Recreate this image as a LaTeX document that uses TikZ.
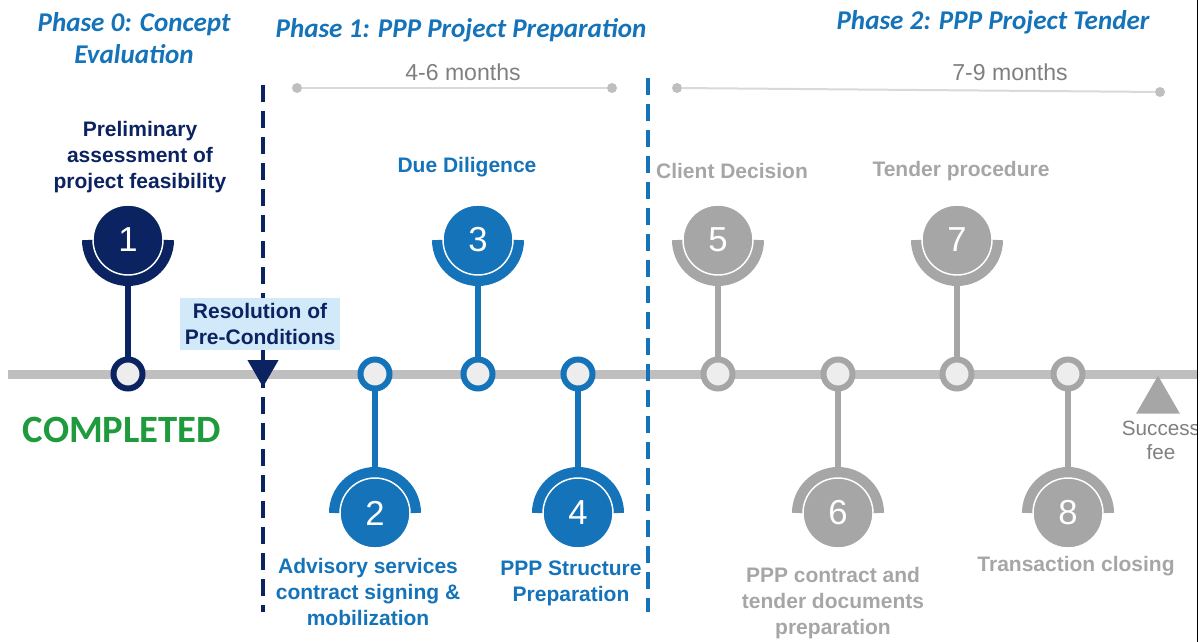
\documentclass[tikz,border=0pt]{standalone}
\usepackage{fontspec}
\setmainfont{Liberation Sans}
\newfontfamily\headfont{Carlito}
\usetikzlibrary{
  positioning,
  shapes.geometric,
  backgrounds,
}
\definecolor{navyCol}{HTML}{0C2362}
\definecolor{blueCol}{HTML}{1473B9}
\definecolor{grayCol}{HTML}{A6A6A6}
\definecolor{lineGray}{HTML}{BFBFBF}
\definecolor{dotFill}{HTML}{EDEDED}
\definecolor{boxBg}{HTML}{D2E9F9}
\definecolor{doneCol}{HTML}{1F9A3C}
\definecolor{monthCol}{HTML}{7F7F7F}
\definecolor{barCol}{HTML}{D9D9D9}
\tikzset{
  phasehead/.style={
    font=\headfont\fontsize{20.3}{24}\selectfont\bfseries\itshape,
    text=blueCol, align=center, inner sep=0pt,
  },
  lbl/.style={
    font=\fontsize{15.75}{19.5}\selectfont\bfseries, align=center,
    inner sep=0pt,
  },
  months/.style={
    font=\fontsize{17.3}{20}\selectfont, text=monthCol, inner sep=0pt,
  },
  bardot/.style={circle, fill=lineGray, minimum size=7.5pt, inner sep=0pt},
  barline/.style={draw=barCol, line width=1.5pt},
  timeline/.style={draw=lineGray, line width=6.75pt},
  sepline/.style={line width=3pt, dash pattern=on 12.75pt off 6.75pt},
  stemline/.style={line width=4.5pt},
  tickdot/.style={
    circle, fill=dotFill, line width=4.5pt, minimum size=21.75pt,
    inner sep=0pt,
  },
  cup/.style={line width=8.25pt},
  bigdot/.style={
    circle, draw=white, line width=1.1pt, minimum size=52.5pt,
    inner sep=0pt, text=white, font=\fontsize{26}{26}\selectfont,
  },
  flagtri/.style={
    regular polygon, regular polygon sides=3, inner sep=0pt,
    draw=none,
  },
  condbox/.style={
    rectangle, fill=boxBg, text=navyCol, align=center, inner sep=0pt,
    minimum width=120pt, minimum height=39pt,
    font=\fontsize{15.75}{19}\selectfont\bfseries,
  },
  done/.style={
    font=\headfont\fontsize{29}{29}\selectfont\bfseries, text=doneCol,
    inner sep=0pt,
  },
  fee/.style={
    font=\fontsize{15.5}{18}\selectfont, text=monthCol, align=center,
    inner sep=0pt,
  },
}

\begin{document}
\begin{tikzpicture}[x=0.75pt, y=0.75pt]
\useasboundingbox (0,0) rectangle (1203,-642);

% phase headings
\node[phasehead] (ph0) at (134,-38) {Phase 0: Concept\\Evaluation};
\node[phasehead] (ph1) at (461,-30) {Phase 1: PPP Project Preparation};
\node[phasehead] (ph2) at (993,-22) {Phase 2: PPP Project Tender};

% duration bars
\node[bardot] (b1s) at (297,-88) {};
\node[bardot] (b1e) at (612,-88) {};
\node[bardot] (b2s) at (677,-88) {};
\node[bardot] (b2e) at (1160,-92) {};
\node[months] (dur1) at (463,-72) {4-6 months};
\node[months] (dur2) at (1010,-72) {7-9 months};
\begin{scope}[on background layer]
  \draw[barline] (b1s) -- (b1e);
  \draw[barline] (b2s) -- (b2e);
\end{scope}

% main time axis
\coordinate (tlA) at (8,-374);
\coordinate (tlB) at (1197,-374);
\draw[timeline] (tlA) -- (tlB);

% phase separators
\coordinate (sepA1) at (263,-85);
\coordinate (sepA2) at (263,-612);
\coordinate (sepB1) at (648,-78);
\coordinate (sepB2) at (648,-612);
\draw[sepline, draw=navyCol] (sepA1) -- (sepA2);
\draw[sepline, draw=blueCol] (sepB1) -- (sepB2);

% milestones: number / x / y of the big dot / cup angle / colour
\foreach \n/\x/\y/\a/\col in {
    1/128/240/180/navyCol, 2/375/513/0/blueCol,
    3/478/240/180/blueCol, 4/578/513/0/blueCol,
    5/718/240/180/grayCol, 6/838/513/0/grayCol,
    7/957/240/180/grayCol, 8/1068/513/0/grayCol}{
  \node[tickdot, draw=\col] (p\n) at (\x,-374) {};
  \node[bigdot, fill=\col] (m\n) at (\x,-\y) {\n};
  \begin{scope}[on background layer]
    \draw[stemline, draw=\col] (p\n.center) -- (m\n.center);
    \draw[cup, draw=\col] ([shift={(\a:40.5)}]m\n.center)
      arc[start angle=\a, delta angle=180, radius=40.5];
  \end{scope}
}

% milestone texts
\node[lbl, text=navyCol] (l1) at (140,-157)
  {Preliminary\\assessment of\\project feasibility};
\node[lbl, text=blueCol] (l3) at (467,-167) {Due Diligence};
\node[lbl, text=grayCol] (l5) at (732,-171) {Client Decision};
\node[lbl, text=grayCol] (l7) at (961,-171) {Tender procedure};
\node[lbl, text=blueCol] (l2) at (368,-592)
  {Advisory services\\contract signing \&\\mobilization};
\node[lbl, text=blueCol] (l4) at (571,-583) {PPP Structure\\Preparation};
\node[lbl, text=grayCol] (l6) at (833,-603)
  {PPP contract and\\tender documents\\preparation};
\node[lbl, text=grayCol] (l8) at (1076,-566) {Transaction closing};

% pre-conditions flag
\node[condbox] (cond) at (260,-324) {Resolution of\\Pre-Conditions};
\node[flagtri, fill=navyCol, minimum size=27pt, shape border rotate=180]
  (resol) at (263,-369) {};

\node[done] (done) at (122,-430) {COMPLETED};

% success fee, cut by the frame
\node[flagtri, fill=grayCol, minimum size=38pt] (feeTri) at (1158,-401) {};
\begin{scope}
  \clip (0,0) rectangle (1197,-642);
  \node[fee] (feeTxt) at (1161,-440) {Success\\fee};
\end{scope}
\coordinate (frameT) at (1197.5,0);
\coordinate (frameB) at (1197.5,-642);
\draw[black, line width=1pt] (frameT) -- (frameB);

\end{tikzpicture}
\end{document}
